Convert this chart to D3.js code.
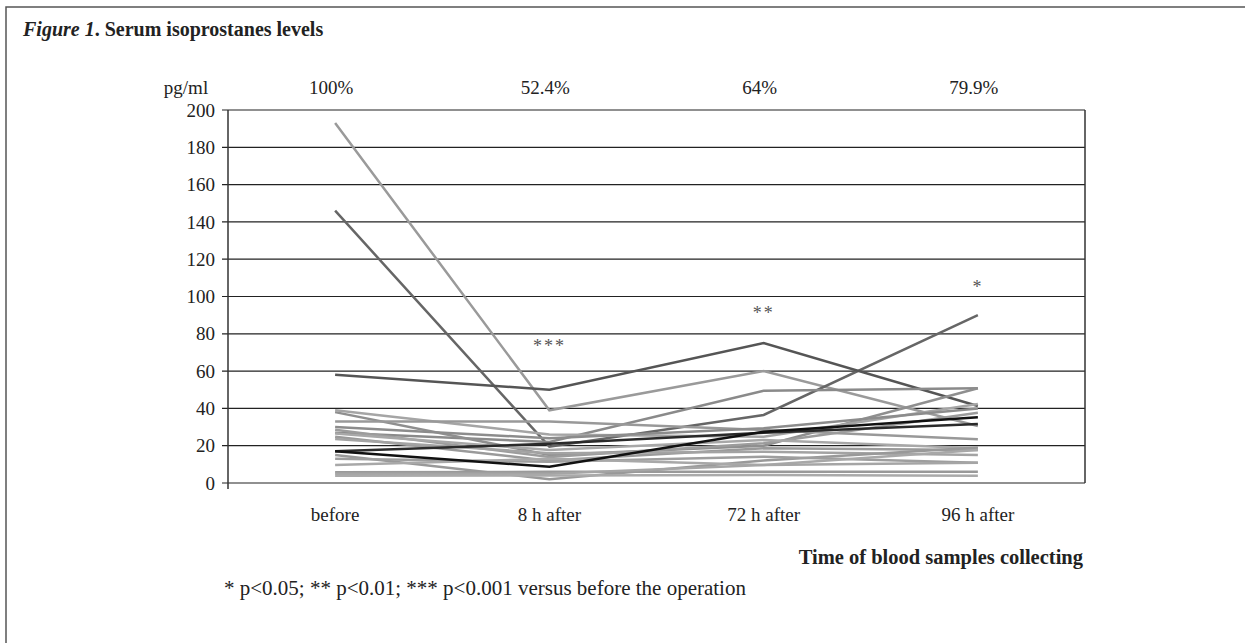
<!DOCTYPE html>
<html>
<head>
<meta charset="utf-8">
<script src="https://cdn.jsdelivr.net/npm/d3@7"></script>
<style>
  body { margin: 0; background: #fff; }
  text { font-family: "Liberation Serif", "Times New Roman", serif; }
</style>
</head>
<body>
<div id="chart"></div>
<script>
// categories (time points) and the percentage labels above them
const times = ["before", "8 h after", "72 h after", "96 h after"];
const percents = ["100%", "52.4%", "64%", "79.9%"];
const yTicks = [0, 20, 40, 60, 80, 100, 120, 140, 160, 180, 200];
const stars = ["", "***", "**", "*"];
const starLevels = [0, 70, 88, 102];

// one row per patient: values at before, 8h, 72h, 96h
const patients = [
  [193, 39, 60, 30.6],
  [146, 19.5, 36.5, 90],
  [58, 50, 75, 41.3],
  [27, 22, 49.5, 50.8],
  [38, 15, 20, 50.8],
  [39, 26, 24.8, 42.4],
  [33, 33, 28.4, 23.4],
  [30, 24, 29.3, 40],
  [28.5, 14, 21.3, 37.7],
  [26.6, 17.7, 23, 18.6],
  [24.8, 12, 18.6, 17.7],
  [23.6, 16, 16.8, 15],
  [15, 2, 12, 19],
  [13, 11.4, 14.1, 10.9],
  [9.6, 13, 9.7, 17.7],
  [5.7, 6, 6, 6],
  [5, 5, 9.7, 10.9],
  [3.9, 4, 4.3, 3.9],
  [17, 21, 27, 31.6],
  [17, 8.7, 27.5, 35.2]
];
const lineColors = [
  "#9a9a9a", "#666", "#555", "#8a8a8a", "#8f8f8f", "#a5a5a5", "#999", "#8c8c8c",
  "#9c9c9c", "#a8a8a8", "#9a9a9a", "#a3a3a3", "#999", "#9e9e9e", "#a8a8a8",
  "#999", "#a5a5a5", "#aaa", "#2a2a2a", "#111"
];

const W = 1245, H = 643;
const margin = {top: 110, right: 160, bottom: 160, left: 228};

const svg = d3.select("#chart").append("svg")
  .attr("width", W).attr("height", H);

// outer frame (left and top edges visible)
svg.append("path")
  .attr("d", `M6,${H} L6,7 L${W},7`)
  .attr("fill", "none").attr("stroke", "#555").attr("stroke-width", 1.5);

// title
const title = svg.append("text").attr("x", 23).attr("y", 36)
  .style("font-size", "20px").style("font-weight", "bold").attr("fill", "#222");
title.append("tspan").style("font-style", "italic").text("Figure 1");
title.append("tspan").text(".  Serum isoprostanes levels");

const x = d3.scaleBand().domain(times).range([margin.left, 1085]);
const y = d3.scaleLinear().domain([0, 200]).range([483, 110]);
const cx = t => x(t) + x.bandwidth() / 2;

// gridlines + tick marks
svg.append("g").selectAll("line").data(yTicks).join("line")
  .attr("x1", margin.left - 6).attr("x2", 1085)
  .attr("y1", d => y(d)).attr("y2", d => y(d))
  .attr("stroke", "#222").attr("stroke-width", 1.2);

// y axis line and right border
svg.append("line").attr("x1", margin.left).attr("x2", margin.left)
  .attr("y1", y(200)).attr("y2", y(0) + 6).attr("stroke", "#333").attr("stroke-width", 1.5);
svg.append("line").attr("x1", 1085).attr("x2", 1085)
  .attr("y1", y(200)).attr("y2", y(0)).attr("stroke", "#333").attr("stroke-width", 1.5);

// y tick labels
svg.append("g").selectAll("text").data(yTicks).join("text")
  .attr("x", margin.left - 13).attr("y", d => y(d)).attr("dy", "0.35em")
  .attr("text-anchor", "end").style("font-size", "19px").attr("fill", "#222")
  .text(d => d);

svg.append("text").attr("x", 186).attr("y", 94).attr("text-anchor", "middle")
  .style("font-size", "19px").attr("fill", "#222").text("pg/ml");

// percentages on top
svg.append("g").selectAll("text").data(times).join("text")
  .attr("x", d => cx(d) - 4).attr("y", 94).attr("text-anchor", "middle")
  .style("font-size", "19px").attr("fill", "#222")
  .text((d, i) => percents[i]);

// category labels
svg.append("g").selectAll("text").data(times).join("text")
  .attr("x", d => cx(d)).attr("y", 521).attr("text-anchor", "middle")
  .style("font-size", "19px").attr("fill", "#222").text(d => d);

// patient lines
const line = d3.line().x((d, i) => cx(times[i])).y(d => y(d));
svg.append("g").selectAll("path").data(patients).join("path")
  .attr("d", line).attr("fill", "none")
  .attr("stroke", (d, i) => lineColors[i]).attr("stroke-width", 2.5)
  .attr("stroke-linejoin", "miter");

// significance stars
svg.append("g").selectAll("text").data(times).join("text")
  .attr("x", d => cx(d)).attr("y", (d, i) => y(starLevels[i]))
  .attr("text-anchor", "middle").style("font-size", "18px").attr("fill", "#555")
  .style("letter-spacing", "2px")
  .text((d, i) => stars[i]);

// x axis title
svg.append("text").attr("x", 1083).attr("y", 564).attr("text-anchor", "end")
  .style("font-size", "20.5px").style("font-weight", "bold").attr("fill", "#222")
  .text("Time of blood samples collecting");

// footnote
svg.append("text").attr("x", 224).attr("y", 595)
  .style("font-size", "21px").attr("fill", "#222")
  .text("* p<0.05; ** p<0.01; *** p<0.001 versus before the operation");
</script>
</body>
</html>
